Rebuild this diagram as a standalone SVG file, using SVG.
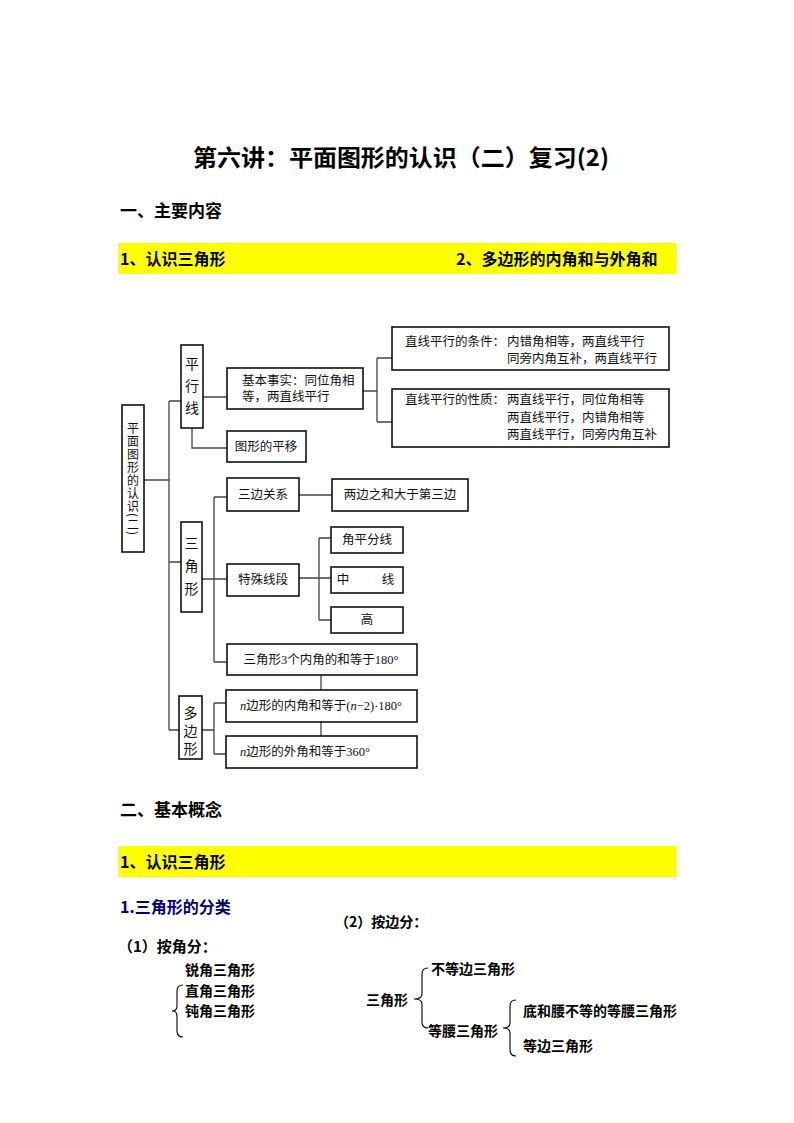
<svg xmlns="http://www.w3.org/2000/svg" width="794" height="1123" viewBox="0 0 794 1123">
<style>
.h{font-family:"Noto Sans CJK SC",sans-serif;font-weight:bold;fill:#000}
.t{font-family:"Liberation Serif","Noto Sans CJK SC",serif;font-size:12.5px;fill:#111;dominant-baseline:central}
.v{font-family:"Noto Sans CJK SC",sans-serif;font-size:14px;fill:#111;text-anchor:middle;dominant-baseline:central}
.c{text-anchor:middle}
.box{fill:#fff;stroke:#111;stroke-width:1.6}
.ln{fill:none;stroke:#444;stroke-width:1.3}
.br{fill:none;stroke:#000;stroke-width:1.1}
.b{font-family:"Noto Sans CJK SC",sans-serif;font-weight:bold;font-size:14px;fill:#000;dominant-baseline:central}
</style>
<rect width="794" height="1123" fill="#fff"/>
<g id="header">
<text class="h" x="193" y="166" font-size="23" textLength="416" lengthAdjust="spacingAndGlyphs">第六讲：平面图形的认识（二）复习(2)</text>
<text class="h" x="120" y="217" font-size="17">一、主要内容</text>
<rect x="118" y="243" width="558" height="31" fill="#ffff00"/>
<text class="h" x="120" y="265" font-size="16">1、认识三角形</text>
<text class="h" x="456" y="265" font-size="16">2、多边形的内角和与外角和</text>
</g>
<g id="connectors">
<path class="ln" d="M144,480 H169 M169,401 V730 M169,401 H181 M169,562 H181 M169,730 H179"/>
<path class="ln" d="M203,397 H227 M192,428 V448 H227"/>
<path class="ln" d="M363,391 H377 M377,358 V422 M377,358 H392 M377,422 H392"/>
<path class="ln" d="M202,579 H227 M214,497 V662 M214,497 H227 M214,662 H227"/>
<path class="ln" d="M299,495 H332 M299,578 H331 M319,538 V620 M319,538 H331 M319,620 H331"/>
<path class="ln" d="M202,730 H214 M214,703 V754 M214,703 H226 M214,754 H226"/>
<path class="ln" d="M321,675 V690 M321,722 V736"/>
</g>
<g id="root">
<rect class="box" x="122" y="405" width="22" height="147"/>
<text x="133" y="422" writing-mode="vertical-rl" font-family="Noto Sans CJK SC, sans-serif" font-size="12" letter-spacing="1" fill="#111">平面图形的认识(二)</text>
</g>
<g id="pxx">
<rect class="box" x="181" y="345" width="22" height="83"/>
<text class="v" x="192" y="363">平</text>
<text class="v" x="192" y="385">行</text>
<text class="v" x="192" y="407">线</text>
</g>
<g id="jbss">
<rect class="box" x="227" y="368" width="136" height="41"/>
<text class="t" x="242" y="381">基本事实：同位角相</text>
<text class="t" x="242" y="397">等，两直线平行</text>
</g>
<g id="pingyi">
<rect class="box" x="227" y="431" width="79" height="31"/>
<text class="t c" x="266" y="447">图形的平移</text>
</g>
<g id="tiaojian">
<rect class="box" x="392" y="327" width="277" height="43"/>
<text class="t" x="405" y="342">直线平行的条件：</text>
<text class="t" x="507" y="342">内错角相等，两直线平行</text>
<text class="t" x="507" y="359">同旁内角互补，两直线平行</text>
</g>
<g id="xingzhi">
<rect class="box" x="392" y="389" width="277" height="58"/>
<text class="t" x="405" y="400">直线平行的性质：</text>
<text class="t" x="507" y="400">两直线平行，同位角相等</text>
<text class="t" x="507" y="418">两直线平行，内错角相等</text>
<text class="t" x="507" y="435">两直线平行，同旁内角互补</text>
</g>
<g id="sjx">
<rect class="box" x="181" y="522" width="21" height="90"/>
<text class="v" x="191.5" y="542">三</text>
<text class="v" x="191.5" y="565">角</text>
<text class="v" x="191.5" y="588">形</text>
</g>
<g id="sbgx">
<rect class="box" x="227" y="478" width="72" height="33"/>
<text class="t c" x="263" y="495">三边关系</text>
</g>
<g id="lbzh">
<rect class="box" x="332" y="479" width="136" height="32"/>
<text class="t c" x="400" y="495">两边之和大于第三边</text>
</g>
<g id="tsxd">
<rect class="box" x="227" y="564" width="72" height="32"/>
<text class="t c" x="263" y="580">特殊线段</text>
</g>
<g id="jpfx">
<rect class="box" x="331" y="527" width="72" height="26"/>
<text class="t c" x="367" y="540">角平分线</text>
</g>
<g id="zx">
<rect class="box" x="331" y="567" width="72" height="26"/>
<text class="t c" x="343" y="580">中</text>
<text class="t c" x="388" y="580">线</text>
</g>
<g id="gao">
<rect class="box" x="331" y="607" width="72" height="26"/>
<text class="t c" x="367" y="620">高</text>
</g>
<g id="nj180">
<rect class="box" x="227" y="644" width="190" height="31"/>
<text class="t c" x="321" y="660">三角形3个内角的和等于180°</text>
</g>
<g id="dbx">
<rect class="box" x="179" y="696" width="23" height="63"/>
<text class="v" x="190.5" y="712">多</text>
<text class="v" x="190.5" y="730">边</text>
<text class="v" x="190.5" y="748">形</text>
</g>
<g id="nnj">
<rect class="box" x="226" y="690" width="191" height="32"/>
<text class="t" x="240" y="706"><tspan font-style="italic">n</tspan>边形的内角和等于(<tspan font-style="italic">n</tspan>−2)·180°</text>
</g>
<g id="nwj">
<rect class="box" x="226" y="736" width="191" height="32"/>
<text class="t" x="240" y="752"><tspan font-style="italic">n</tspan>边形的外角和等于360°</text>
</g>
<g id="section2">
<text class="h" x="120" y="816" font-size="17">二、基本概念</text>
<rect x="118" y="846" width="558" height="31" fill="#ffff00"/>
<text class="h" x="120" y="868" font-size="16">1、认识三角形</text>
<text class="h" x="120" y="913" font-size="16" style="fill:#000080">1.三角形的分类</text>
<text class="h" x="335" y="927" font-size="14">（2）按边分：</text>
<text class="h" x="118" y="952" font-size="15">（1）按角分：</text>
</g>
<g id="jiao">
<text class="b" x="185" y="969">锐角三角形</text>
<text class="b" x="185" y="990">直角三角形</text>
<text class="b" x="185" y="1010">钝角三角形</text>
<path class="br" d="M183,985 Q177,985 177,991 V1006 Q177,1011 172,1011 Q177,1011 177,1016 V1031 Q177,1037 183,1037"/>
</g>
<g id="bian">
<text class="b" x="366" y="999">三角形</text>
<path class="br" d="M428,968 Q422,968 422,974 V994 Q422,999 414,999 Q422,999 422,1004 V1022 Q422,1028 428,1028"/>
<text class="b" x="431" y="968">不等边三角形</text>
<text class="b" x="428" y="1030">等腰三角形</text>
<path class="br" d="M516,1000 Q510,1000 510,1006 V1023 Q510,1028 503,1028 Q510,1028 510,1033 V1050 Q510,1056 516,1056"/>
<text class="b" x="523" y="1010">底和腰不等的等腰三角形</text>
<text class="b" x="523" y="1045">等边三角形</text>
</g>
</svg>
